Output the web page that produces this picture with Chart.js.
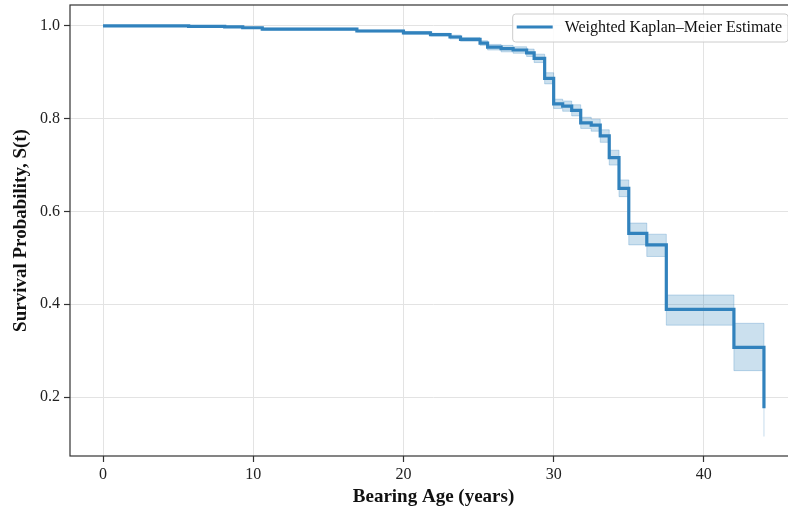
<!DOCTYPE html>
<html>
<head>
<meta charset="utf-8">
<script src="https://cdn.jsdelivr.net/npm/chart.js@4.4.1/dist/chart.umd.min.js"></script>
<style>
  html, body { margin: 0; padding: 0; background: #fff; overflow: hidden; }
  #wrap { width: 788px; height: 514px; overflow: hidden; }
</style>
</head>
<body>
<div id="wrap"><canvas id="km" width="800" height="514"></canvas></div>
<script>
// event times (years) and weighted KM estimate with confidence band
const TEMPI = [0, 5.7, 8.1, 9.3, 10.6, 16.9, 20.0, 21.8, 23.1, 23.8, 25.1, 25.6, 26.5, 27.3, 28.2, 28.7, 29.4, 30.0, 30.6, 31.2, 31.8, 32.5, 33.1, 33.7, 34.35, 35.0, 36.2, 37.5, 42.0, 44.0];
const SOPRAVV = [1.000, 0.999, 0.998, 0.996, 0.993, 0.989, 0.985, 0.981, 0.976, 0.971, 0.963, 0.954, 0.951, 0.948, 0.942, 0.930, 0.887, 0.832, 0.827, 0.818, 0.791, 0.786, 0.763, 0.716, 0.650, 0.553, 0.528, 0.389, 0.307, 0.176];
const CI_BASSO = [1.000, 0.998, 0.997, 0.995, 0.991, 0.987, 0.982, 0.978, 0.972, 0.967, 0.958, 0.948, 0.944, 0.941, 0.934, 0.921, 0.875, 0.822, 0.816, 0.806, 0.779, 0.773, 0.749, 0.700, 0.632, 0.528, 0.503, 0.355, 0.257, 0.115];
const CI_ALTO = [1.000, 1.000, 0.999, 0.997, 0.995, 0.991, 0.988, 0.984, 0.980, 0.975, 0.968, 0.960, 0.958, 0.955, 0.950, 0.939, 0.899, 0.842, 0.838, 0.830, 0.803, 0.799, 0.776, 0.732, 0.668, 0.575, 0.551, 0.420, 0.359, 0.250];
const X_TICKS = [0, 10, 20, 30, 40];
const Y_TICKS = [0.2, 0.4, 0.6, 0.8, 1.0];
const NOME_SERIE = "Weighted Kaplan\u2013Meier Estimate";

const BLU = "#3182bd";
const FONT = "'Liberation Serif', 'Times New Roman', serif";

function punti(ys) {
  return TEMPI.map((t, i) => ({ x: t, y: ys[i] }));
}

// box around the plot area
const cornice = {
  id: "cornice",
  afterDraw(chart) {
    const { ctx, chartArea: a } = chart;
    ctx.save();
    ctx.strokeStyle = "#333";
    ctx.lineWidth = 1.2;
    ctx.strokeRect(a.left, a.top, a.right - a.left, a.bottom - a.top);
    ctx.restore();
  }
};

// legend in upper right, matplotlib style
const legenda = {
  id: "legenda",
  afterDraw(chart) {
    const { ctx, chartArea: a } = chart;
    ctx.save();
    ctx.font = "16px " + FONT;
    const tw = ctx.measureText(NOME_SERIE).width;
    const w = 4 + 36 + 12 + tw + 6;
    const h = 28;
    const x = a.right - 9 - w;
    const y = a.top + 9;
    ctx.beginPath();
    ctx.roundRect(x, y, w, h, 3);
    ctx.fillStyle = "rgba(255,255,255,0.85)";
    ctx.fill();
    ctx.strokeStyle = "#cccccc";
    ctx.lineWidth = 1;
    ctx.stroke();
    ctx.beginPath();
    ctx.moveTo(x + 4, y + h / 2 - 1);
    ctx.lineTo(x + 40, y + h / 2 - 1);
    ctx.strokeStyle = BLU;
    ctx.lineWidth = 3;
    ctx.stroke();
    ctx.fillStyle = "#111";
    ctx.textBaseline = "middle";
    ctx.fillText(NOME_SERIE, x + 52, y + h / 2);
    ctx.restore();
  }
};

new Chart("km", {
  type: "line",
  data: {
    datasets: [
      {
        label: NOME_SERIE,
        data: punti(SOPRAVV),
        borderColor: BLU,
        borderWidth: 3.2,
        stepped: "before",
        pointRadius: 0,
        fill: false,
        order: 0
      },
      {
        label: "upper",
        data: punti(CI_ALTO),
        borderColor: "rgba(49,130,189,0.28)",
        borderWidth: 1,
        backgroundColor: "rgba(49,130,189,0.25)",
        stepped: "before",
        pointRadius: 0,
        fill: "+1",
        order: 1
      },
      {
        label: "lower",
        data: punti(CI_BASSO),
        borderColor: "rgba(49,130,189,0.28)",
        borderWidth: 1,
        stepped: "before",
        pointRadius: 0,
        fill: false,
        order: 2
      }
    ]
  },
  options: {
    responsive: false,
    animation: false,
    layout: { padding: { left: 0, right: 3, top: 5, bottom: 0 } },
    plugins: {
      legend: { display: false },
      tooltip: { enabled: false }
    },
    scales: {
      x: {
        type: "linear",
        min: -2.2,
        max: 46.2,
        afterBuildTicks: s => { s.ticks = X_TICKS.map(v => ({ value: v })); },
        afterFit: s => { s.height = 58; s.paddingLeft = 0; s.paddingRight = 0; },
        grid: { color: "#e3e3e3", lineWidth: 1, tickColor: "#333", tickLength: 6, tickWidth: 1.2 },
        border: { display: false },
        ticks: {
          color: "#222",
          font: { family: FONT, size: 16 },
          padding: 3,
          maxRotation: 0,
          callback: v => String(v)
        },
        title: {
          display: true,
          text: "Bearing Age (years)",
          color: "#111",
          font: { family: FONT, size: 19, weight: "bold" },
          padding: { top: 0, bottom: 6 }
        }
      },
      y: {
        min: 0.073,
        max: 1.045,
        afterBuildTicks: s => { s.ticks = Y_TICKS.map(v => ({ value: v })); },
        afterFit: s => { s.width = 70; s.paddingTop = 0; s.paddingBottom = 0; },
        grid: { color: "#e3e3e3", lineWidth: 1, tickColor: "#333", tickLength: 6, tickWidth: 1.2 },
        border: { display: false },
        ticks: {
          color: "#222",
          font: { family: FONT, size: 16 },
          padding: 4,
          callback: v => v.toFixed(1)
        },
        title: {
          display: true,
          text: "Survival Probability, S(t)",
          color: "#111",
          font: { family: FONT, size: 19, weight: "bold" },
          padding: { top: 10, bottom: 0 }
        }
      }
    }
  },
  plugins: [cornice, legenda]
});
</script>
</body>
</html>
